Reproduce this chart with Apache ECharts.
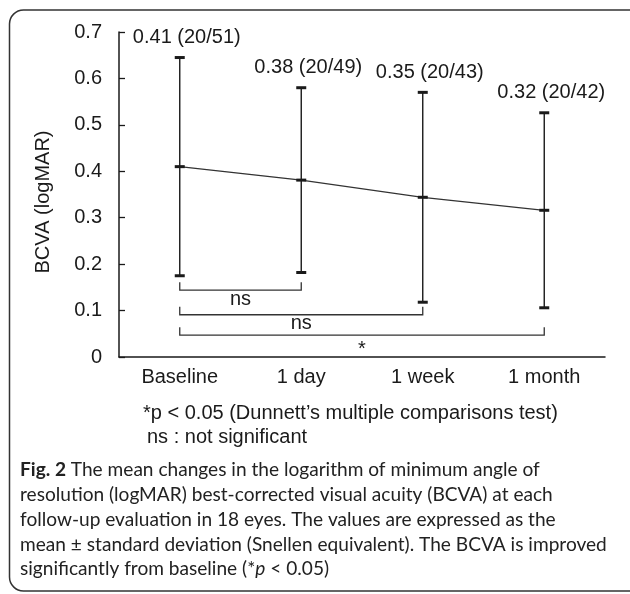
<!DOCTYPE html>
<html>
<head>
<meta charset="utf-8">
<script src="https://cdn.jsdelivr.net/npm/echarts@6/dist/echarts.min.js"></script>
<style>
  html, body { margin: 0; padding: 0; background: #fff; }
  #main { width: 630px; height: 594px; }
</style>
</head>
<body>
<div id="main"></div>
<script>
// time points
var categories = ['Baseline', '1 day', '1 week', '1 month'];
// mean logMAR and standard deviation
var means = [0.41, 0.381, 0.344, 0.316];
var sds = [0.235, 0.199, 0.226, 0.21];
// printed labels above each bar
var meanLabels = ['0.41', '0.38', '0.35', '0.32'];
var snellen = ['20/51', '20/49', '20/43', '20/42'];
// comparisons against baseline: [from index, to index, bracket level]
var brackets = [[0, 1, 0.144], [0, 2, 0.091], [0, 3, 0.047]];
var bracketLabels = ['ns', 'ns', '*'];
var yTicks = { min: 0, max: 0.7, interval: 0.1 };

var FONT = "'Liberation Sans', Arial, sans-serif";
var CAP_FONT = "Lato, 'Noto Sans', sans-serif";
var INK = '#1a1a1a';

var captionLines = [
    '{b|Fig. 2} The mean changes in the logarithm of minimum angle of',
    'resolution (logMAR) best-corrected visual acuity (BCVA) at each',
    'follow-up evaluation in 18 eyes. The values are expressed as the',
    'mean \u00b1 standard deviation (Snellen equivalent). The BCVA is improved',
    'significantly from baseline (*{i|p} < 0.05)'
];

// fit caption font size so the longest line ends where it does in the figure
function fitCaption() {
    var ctx = document.createElement('canvas').getContext('2d');
    ctx.font = '20px ' + CAP_FONT;
    var w = ctx.measureText('mean \u00b1 standard deviation (Snellen equivalent). The BCVA is improved').width;
    return Math.round(20 * 588 / w * 10) / 10;
}
var capSize = fitCaption();

var errData = categories.map(function (c, i) {
    return [i, means[i] - sds[i], means[i] + sds[i], means[i]];
});

var chart = echarts.init(document.getElementById('main'));

var graphics = [{
    type: 'rect',
    shape: { x: 9.5, y: 10, width: 640, height: 581, r: 14 },
    style: { fill: 'none', stroke: '#333', lineWidth: 1.5 },
    silent: true
}, {
    type: 'text', x: 143, y: 413,
    style: { text: '*p < 0.05 (Dunnett\u2019s multiple comparisons test)', fontSize: 20, fontFamily: FONT, fill: INK, verticalAlign: 'middle' }
}, {
    type: 'text', x: 147, y: 437,
    style: { text: 'ns : not significant', fontSize: 20, fontFamily: FONT, fill: INK, verticalAlign: 'middle' }
}];

captionLines.forEach(function (line, i) {
    graphics.push({
        type: 'text', x: 20, y: 470 + i * 24.8,
        style: {
            text: line, fontSize: capSize, fontFamily: CAP_FONT, fill: '#222', verticalAlign: 'middle',
            rich: {
                b: { fontSize: capSize, fontFamily: CAP_FONT, fontWeight: 'bold', fill: '#222' },
                i: { fontSize: capSize, fontFamily: CAP_FONT, fontStyle: 'italic', fill: '#222' }
            }
        }
    });
});

var option = {
    animation: false,
    grid: { left: 119, right: 25, top: 32, bottom: 237, outerBoundsMode: 'none' },
    xAxis: {
        type: 'category',
        data: categories,
        boundaryGap: true,
        axisLine: { lineStyle: { color: INK, width: 1.5 } },
        axisTick: { inside: true, length: 6, lineStyle: { color: INK, width: 1.3 } },
        axisLabel: { fontSize: 20, fontFamily: FONT, color: INK, margin: 10 }
    },
    yAxis: {
        type: 'value',
        min: yTicks.min,
        max: yTicks.max,
        interval: yTicks.interval,
        name: 'BCVA (logMAR)',
        nameLocation: 'middle',
        nameGap: 66,
        nameTextStyle: { fontSize: 20, fontFamily: FONT, color: INK, padding: [0, 15, 0, 0] },
        splitLine: { show: false },
        axisLine: { show: true, lineStyle: { color: INK, width: 1.5 } },
        axisTick: { show: true, inside: true, length: 6, lineStyle: { color: INK, width: 1.3 } },
        axisLabel: { fontSize: 20, fontFamily: FONT, color: INK, margin: 17 }
    },
    graphic: graphics,
    series: [
        {
            // line through the means
            type: 'line',
            data: means,
            symbol: 'none',
            lineStyle: { color: '#333', width: 1.2 },
            z: 2
        },
        {
            // error bars, mean marks and labels
            type: 'custom',
            data: errData,
            renderItem: function (params, api) {
                var idx = api.value(0);
                var lo = api.coord([idx, api.value(1)]);
                var hi = api.coord([idx, api.value(2)]);
                var mid = api.coord([idx, api.value(3)]);
                var x = lo[0], w = 5;
                var cap = { stroke: INK, lineWidth: 3 };
                var i = params.dataIndex;
                return {
                    type: 'group',
                    children: [
                        { type: 'line', shape: { x1: x, y1: hi[1], x2: x, y2: lo[1] }, style: { stroke: INK, lineWidth: 1.4 } },
                        { type: 'line', shape: { x1: x - w, y1: hi[1], x2: x + w, y2: hi[1] }, style: cap },
                        { type: 'line', shape: { x1: x - w, y1: lo[1], x2: x + w, y2: lo[1] }, style: cap },
                        { type: 'line', shape: { x1: x - w, y1: mid[1], x2: x + w, y2: mid[1] }, style: cap },
                        {
                            type: 'text',
                            style: {
                                text: meanLabels[i] + ' (' + snellen[i] + ')',
                                x: x + 7, y: hi[1] - 20,
                                align: 'center', verticalAlign: 'middle',
                                fontSize: 20, fontFamily: FONT, fill: INK
                            }
                        }
                    ]
                };
            },
            z: 3
        },
        {
            // significance brackets
            type: 'custom',
            data: brackets,
            renderItem: function (params, api) {
                var a = api.coord([api.value(0), api.value(2)]);
                var b = api.coord([api.value(1), api.value(2)]);
                var h = 8;
                var lab = bracketLabels[params.dataIndex];
                var st = { stroke: '#333', lineWidth: 1.3 };
                return {
                    type: 'group',
                    children: [
                        { type: 'polyline', shape: { points: [[a[0], a[1] - h], [a[0], a[1]], [b[0], b[1]], [b[0], b[1] - h]] }, style: Object.assign({ fill: 'none' }, st) },
                        {
                            type: 'text',
                            style: {
                                text: lab,
                                x: (a[0] + b[0]) / 2,
                                y: a[1] + (lab === '*' ? 14 : 9),
                                align: 'center', verticalAlign: 'middle',
                                fontSize: 20, fontFamily: FONT, fill: INK
                            }
                        }
                    ]
                };
            },
            z: 3
        }
    ]
};

chart.setOption(option);
</script>
</body>
</html>
